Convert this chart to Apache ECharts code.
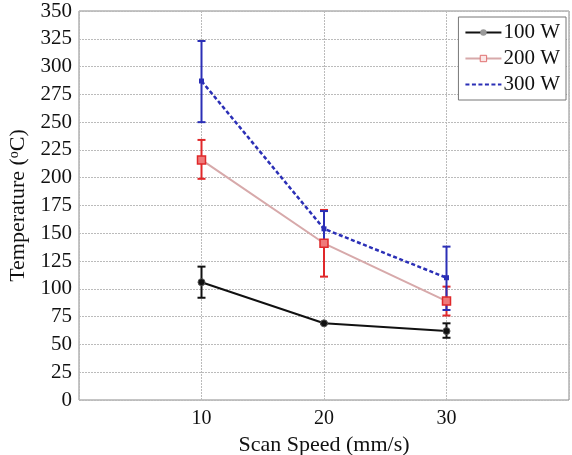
<!DOCTYPE html>
<html>
<head>
<meta charset="utf-8">
<script src="https://cdn.jsdelivr.net/npm/echarts@6/dist/echarts.min.js"></script>
<style>
  html, body { margin: 0; padding: 0; background: #fff; }
  #chart { width: 572px; height: 455px; }
</style>
</head>
<body>
<div id="chart"></div>
<script>
// Scan speeds (mm/s)
const speeds = [10, 20, 30];
const xTickLabels = ['10', '20', '30'];
const yTickStep = 25;

// Mean temperature (°C) per laser power
const temp100 = [106, 69, 62];
const temp200 = [216, 141, 89];
const temp300 = [287, 154, 110];

// Error bar extents [low, high]
const err100 = [[92, 120], [69, 69], [56, 69]];
const err200 = [[199, 234], [111, 171], [76, 102]];
const err300 = [[250, 323], [138, 170], [81, 138]];

const seriesNames = ['100 W', '200 W', '300 W'];

const serif = 'Liberation Serif';
const C100 = '#111111';
const C200line = '#d7a9aa';
const C200mark = '#e0282a';
const C300 = '#2b2fb6';

function pairs(xs, ys) { return xs.map((x, i) => [x, ys[i]]); }
function errData(xs, errs) { return xs.map((x, i) => [x, errs[i][0], errs[i][1]]); }

function errorBarSeries(name, xs, errs, color) {
  return {
    type: 'custom',
    name: name + ' error',
    data: errData(xs, errs),
    z: 3,
    silent: true,
    renderItem: function (params, api) {
      const lo = api.coord([api.value(0), api.value(1)]);
      const hi = api.coord([api.value(0), api.value(2)]);
      const w = 4;
      const st = { stroke: color, lineWidth: 2 };
      return {
        type: 'group',
        children: [
          { type: 'line', shape: { x1: lo[0], y1: lo[1], x2: hi[0], y2: hi[1] }, style: st },
          { type: 'line', shape: { x1: hi[0] - w, y1: hi[1], x2: hi[0] + w, y2: hi[1] }, style: st },
          { type: 'line', shape: { x1: lo[0] - w, y1: lo[1], x2: lo[0] + w, y2: lo[1] }, style: st }
        ]
      };
    }
  };
}

const chart = echarts.init(document.getElementById('chart'));
chart.setOption({
  animation: false,
  backgroundColor: '#ffffff',
  grid: {
    left: 79, right: 3, top: 11, bottom: 55,
    outerBoundsMode: 'none',
    show: true, borderColor: '#8a8a8a', borderWidth: 1, backgroundColor: 'transparent'
  },
  legend: {
    orient: 'vertical',
    right: 6, top: 17,
    data: [
      { name: '100 W', itemStyle: { color: '#9a9a9a', borderColor: '#9a9a9a', borderWidth: 0 } },
      { name: '200 W', itemStyle: { color: '#fbe6e6', borderColor: '#e07070', borderWidth: 1 } },
      { name: '300 W', itemStyle: { opacity: 0 } }
    ],
    backgroundColor: '#ffffff',
    borderColor: '#777777', borderWidth: 1,
    padding: [5, 6, 5, 6],
    itemGap: 5,
    itemWidth: 36, itemHeight: 8,
    textStyle: { fontFamily: serif, fontSize: 21, color: '#111', padding: [0, 0, 0, -3] }
  },
  xAxis: {
    type: 'value', min: 0, max: 40, interval: 10,
    name: 'Scan Speed (mm/s)', nameLocation: 'middle', nameGap: 29,
    nameTextStyle: { fontFamily: serif, fontSize: 22, color: '#111' },
    axisLine: { show: false },
    axisTick: { show: false },
    axisLabel: {
      fontFamily: serif, fontSize: 20, color: '#111', margin: 9,
      formatter: v => (xTickLabels.indexOf(String(v)) >= 0 ? String(v) : '')
    },
    splitLine: { show: true, lineStyle: { color: '#bbbbbb', type: [2, 1], width: 1 } }
  },
  yAxis: {
    type: 'value', min: 0, max: 350, interval: yTickStep,
    name: '{n|Temperature (}{s|o}{n|C)}', nameLocation: 'middle', nameGap: 41, nameRotate: 90,
    nameTextStyle: {
      rich: {
        n: { fontFamily: serif, fontSize: 22, color: '#111' },
        s: { fontFamily: serif, fontSize: 14, color: '#111', verticalAlign: 'bottom', padding: [0, 0, 9, 0] }
      }
    },
    axisLine: { show: false },
    axisTick: { show: false },
    axisLabel: { fontFamily: serif, fontSize: 21, color: '#111', margin: 7 },
    splitLine: { show: true, lineStyle: { color: '#bbbbbb', type: [2, 1], width: 1 } }
  },
  series: [
    errorBarSeries('100 W', speeds, err100, C100),
    errorBarSeries('200 W', speeds, err200, C200mark),
    errorBarSeries('300 W', speeds, err300, C300),
    {
      type: 'line', name: '100 W', data: pairs(speeds, temp100), z: 4,
      lineStyle: { color: C100, width: 2 },
      symbol: 'circle', symbolSize: 7,
      itemStyle: { color: C100, borderColor: '#555', borderWidth: 1 }
    },
    {
      type: 'line', name: '200 W', data: pairs(speeds, temp200), z: 4,
      lineStyle: { color: C200line, width: 2 },
      symbol: 'rect', symbolSize: 8,
      itemStyle: { color: '#ef7a7a', borderColor: C200mark, borderWidth: 1.5 }
    },
    {
      type: 'line', name: '300 W', data: pairs(speeds, temp300), z: 5,
      lineStyle: { color: C300, width: 2.5, type: [4, 2.5] },
      symbol: 'rect', symbolSize: 5,
      itemStyle: { color: C300 }
    }
  ]
});
</script>
</body>
</html>
